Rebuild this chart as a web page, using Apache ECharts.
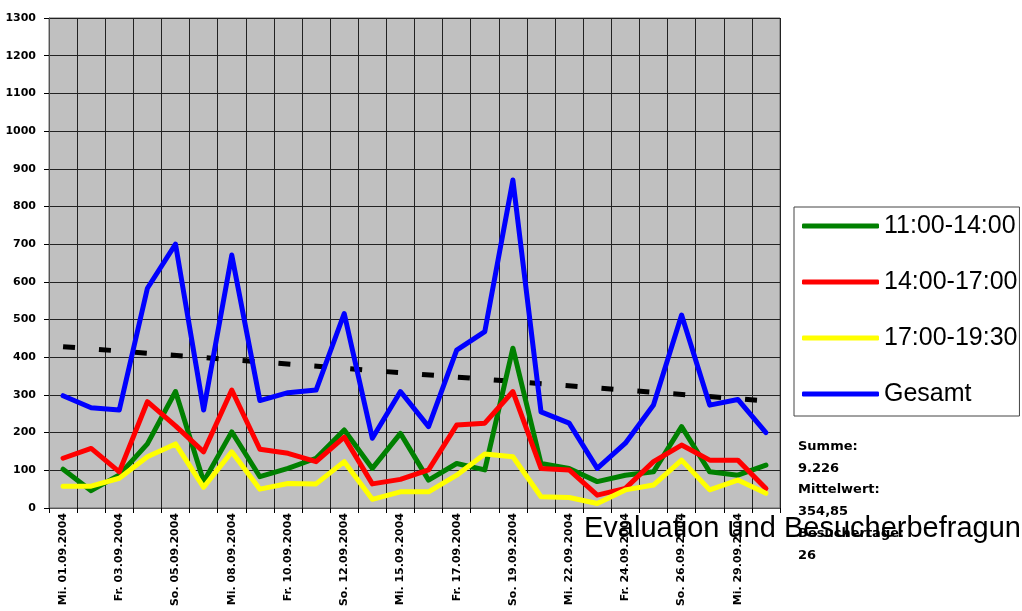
<!DOCTYPE html>
<html>
<head>
<meta charset="utf-8">
<script src="https://cdn.jsdelivr.net/npm/echarts@6/dist/echarts.min.js"></script>
<style>html,body{margin:0;padding:0;background:#fff;}#c{width:1022px;height:611px;}</style>
</head>
<body>
<div id="c"></div>
<script>
var categories = ['Mi. 01.09.2004','Do. 02.09.2004','Fr. 03.09.2004','Sa. 04.09.2004','So. 05.09.2004','Di. 07.09.2004',
  'Mi. 08.09.2004','Do. 09.09.2004','Fr. 10.09.2004','Sa. 11.09.2004','So. 12.09.2004','Di. 14.09.2004',
  'Mi. 15.09.2004','Do. 16.09.2004','Fr. 17.09.2004','Sa. 18.09.2004','So. 19.09.2004','Di. 21.09.2004',
  'Mi. 22.09.2004','Do. 23.09.2004','Fr. 24.09.2004','Sa. 25.09.2004','So. 26.09.2004','Di. 28.09.2004',
  'Mi. 29.09.2004','Do. 30.09.2004'];
var seriesNames = ['11:00-14:00','14:00-17:00','17:00-19:30','Gesamt'];
var v1100 = [103,46,88,170,309,70,202,83,105,132,207,105,198,74,118,101,424,118,105,70,87,96,216,96,87,114];
var v1400 = [132,158,96,282,218,149,313,156,145,123,188,64,76,101,220,225,309,105,101,34,52,123,167,127,127,52];
var v1700 = [58,58,79,136,170,55,149,50,65,64,123,23,43,43,87,143,136,30,28,12,48,61,127,48,74,39];
var vGesamt = [298,266,260,583,700,260,671,285,306,313,516,185,309,216,419,468,870,255,225,105,172,273,512,273,288,200];
var trendCats = [0,25];
var trendValues = [428,284];
var yTicks = {min:0, max:1300, interval:100};
var summaryLabels = ['Summe:','Mittelwert:','Besuchertage:'];
var summaryValues = ['9.226','354,85','26'];
var strayTitle = 'Evaluation und Besucherbefragung';

var colors = ['#008000','#ff0000','#ffff00','#0000ff'];
var values = [v1100, v1400, v1700, vGesamt];

var series = seriesNames.map(function(n,i){
  return {name:n, type:'line', data:values[i], symbol:'none', smooth:false,
    lineStyle:{color:colors[i], width:5, cap:'round', join:'round'}, itemStyle:{color:colors[i]}, z:3+i, silent:true};
});
series.push({name:'Trend', type:'line', data:trendCats.map(function(c,i){return [c,trendValues[i]];}),
  symbol:'none', lineStyle:{color:'#000', width:5, type:[12,24], cap:'butt'}, z:2, silent:true});

var graphics = [];
var gy = 440;
for (var i=0;i<summaryLabels.length;i++){
  graphics.push({type:'text', left:798, top:gy + i*43.6,
    style:{text:summaryLabels[i], font:'bold 13px "DejaVu Sans"', fill:'#000'}});
  graphics.push({type:'text', left:798, top:gy + 21.8 + i*43.6,
    style:{text:summaryValues[i], font:'bold 13px "DejaVu Sans"', fill:'#000'}});
}
graphics.push({type:'text', left:584, top:514, z:100,
  style:{text:strayTitle, font:'29px "Liberation Sans", Arial', fill:'#000'}});

var chart = echarts.init(document.getElementById('c'), null, {renderer:'canvas'});
chart.setOption({
  animation:false,
  backgroundColor:'#ffffff',
  grid:{left:49, right:242, top:18, bottom:103, show:true, backgroundColor:'#c0c0c0', borderColor:'#666', borderWidth:1},
  xAxis:{type:'category', data:categories, boundaryGap:true,
    axisLine:{lineStyle:{color:'#555', width:1}},
    axisTick:{show:true, interval:0, length:5, lineStyle:{color:'#000'}},
    splitLine:{show:true, interval:0, lineStyle:{color:'#222', width:1}},
    axisLabel:{interval:1, rotate:90, margin:5, color:'#000', fontSize:11, fontWeight:'bold', fontFamily:'DejaVu Sans'}},
  yAxis:{type:'value', min:yTicks.min, max:yTicks.max, interval:yTicks.interval,
    axisLine:{show:true, lineStyle:{color:'#555', width:1}},
    axisTick:{show:true, length:5, lineStyle:{color:'#000'}},
    splitLine:{show:true, lineStyle:{color:'#222', width:1}},
    axisLabel:{margin:13, color:'#000', fontSize:11, fontWeight:'bold', fontFamily:'DejaVu Sans',
      formatter:function(v){return String(v);}}},
  legend:{data:seriesNames, orient:'vertical', left:794, top:207,
    backgroundColor:'#fff', borderColor:'#444', borderWidth:1, padding:[4,2,7,8],
    itemWidth:77, itemHeight:5, itemGap:26, icon:'roundRect',
    textStyle:{color:'#000', fontSize:25, fontFamily:'"Liberation Sans", Arial', lineHeight:30}},
  series:series,
  graphic:graphics
});
</script>
</body>
</html>
